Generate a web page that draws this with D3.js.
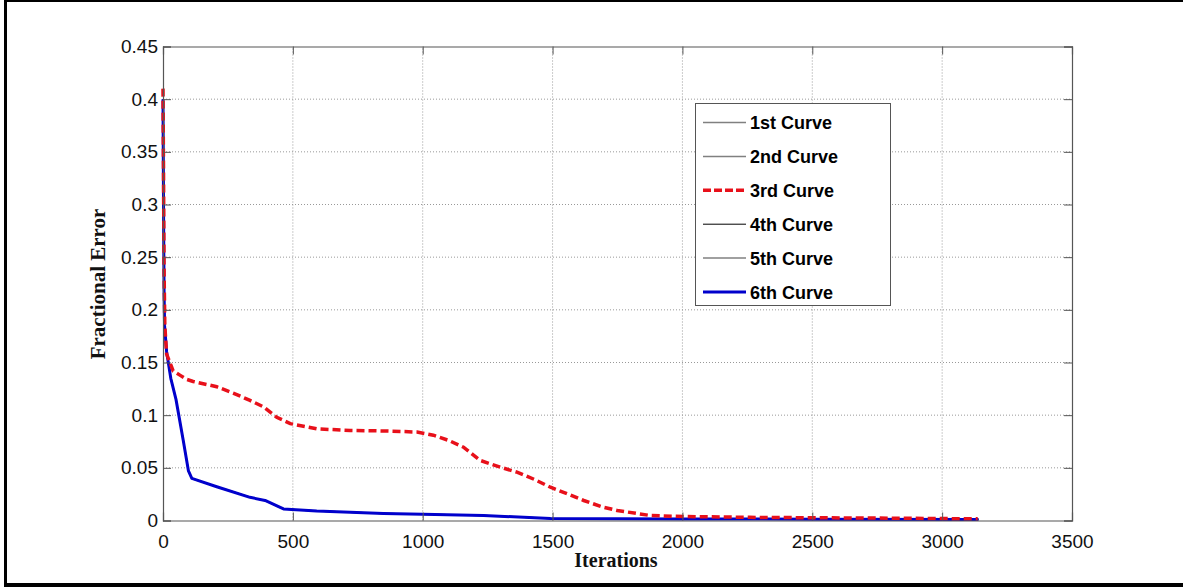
<!DOCTYPE html>
<html>
<head>
<meta charset="utf-8">
<script src="https://cdn.jsdelivr.net/npm/d3@7"></script>
<style>
  html, body { margin: 0; padding: 0; background: #fff; }
  svg { display: block; }
</style>
</head>
<body>
<div id="chart"></div>
<script>
// Values
const xTicks = [0, 500, 1000, 1500, 2000, 2500, 3000, 3500];
const yTicks = [0, 0.05, 0.1, 0.15, 0.2, 0.25, 0.3, 0.35, 0.4, 0.45];
const yTickLabels = ['0', '0.05', '0.1', '0.15', '0.2', '0.25', '0.3', '0.35', '0.4', '0.45'];

// 3rd curve (red dashed)
const redIter = [0, 2, 4, 7, 14, 39, 65, 91, 116, 207, 270, 335, 386, 438, 490, 592, 721, 850, 978, 1041, 1100, 1157, 1222, 1299, 1363, 1430, 1492, 1560, 1620, 1690, 1749, 1877, 2005, 2260, 2520, 2800, 3137];
const redErr = [0.41, 0.33, 0.24, 0.185, 0.158, 0.142, 0.138, 0.134, 0.132, 0.127, 0.121, 0.114, 0.108, 0.098, 0.092, 0.087, 0.0855, 0.085, 0.084, 0.081, 0.076, 0.0696, 0.057, 0.0506, 0.0459, 0.039, 0.0316, 0.025, 0.019, 0.013, 0.0095, 0.0047, 0.0038, 0.003, 0.0026, 0.0022, 0.0016];

// 6th curve (blue solid) -- curves 1, 2, 4, 5 lie underneath it
const blueIter = [0, 2, 4, 6, 14, 30, 50, 78, 98, 111, 207, 335, 393, 464, 592, 849, 1000, 1234, 1492, 2000, 2500, 3140];
const blueErr = [0.40, 0.30, 0.22, 0.185, 0.16, 0.135, 0.115, 0.076, 0.047, 0.04, 0.032, 0.022, 0.019, 0.011, 0.009, 0.0066, 0.006, 0.0047, 0.002, 0.0015, 0.0013, 0.001];

const seriesNames = ['1st Curve', '2nd Curve', '3rd Curve', '4th Curve', '5th Curve', '6th Curve'];

const W = 1183, H = 587;
const margin = { left: 163, right: 111, top: 46.5, bottom: 66.5 };

const svg = d3.select('#chart').append('svg')
  .attr('width', W)
  .attr('height', H);

// outer frame (left, top, bottom edges only)
svg.append('rect').attr('x', 4).attr('y', 0).attr('width', 3).attr('height', H).attr('fill', '#000');
svg.append('rect').attr('x', 4).attr('y', 0).attr('width', W).attr('height', 2).attr('fill', '#000');
svg.append('rect').attr('x', 4).attr('y', 583).attr('width', W).attr('height', 4).attr('fill', '#000');

const x = d3.scaleLinear().domain([0, 3500]).range([margin.left, W - margin.right]);
const y = d3.scaleLinear().domain([0, 0.45]).range([H - margin.bottom, margin.top]);

const g = svg.append('g');

// grid
g.selectAll('.vgrid')
  .data(xTicks.slice(1, -1))
  .enter().append('line')
  .attr('x1', d => x(d)).attr('x2', d => x(d))
  .attr('y1', y(0)).attr('y2', y(0.45))
  .attr('stroke', '#999').attr('stroke-width', 1)
  .attr('stroke-dasharray', '1,2');

g.selectAll('.hgrid')
  .data(yTicks.slice(1, -1))
  .enter().append('line')
  .attr('x1', x(0)).attr('x2', x(3500))
  .attr('y1', d => y(d)).attr('y2', d => y(d))
  .attr('stroke', '#999').attr('stroke-width', 1)
  .attr('stroke-dasharray', '1,2');

// curves
const line = d3.line().x(d => x(d[0])).y(d => y(d[1]));
const bluePts = blueIter.map((v, i) => [v, blueErr[i]]);
const redPts = redIter.map((v, i) => [v, redErr[i]]);

const hidden = [
  { color: '#808080', w: 1.5 },
  { color: '#808080', w: 1.5 },
  { color: '#000', w: 1 },
  { color: '#808080', w: 1.5 }
];
hidden.forEach(h => {
  g.append('path').datum(bluePts)
    .attr('d', line).attr('fill', 'none')
    .attr('stroke', h.color).attr('stroke-width', h.w);
});

g.append('path').datum(bluePts)
  .attr('d', line).attr('fill', 'none')
  .attr('stroke', '#0000cc').attr('stroke-width', 3)
  .attr('stroke-linejoin', 'round');

g.append('path').datum(redPts)
  .attr('d', line).attr('fill', 'none')
  .attr('stroke', '#e8101a').attr('stroke-width', 3.5)
  .attr('stroke-dasharray', '8,4');

// axes (MATLAB style: inward ticks, full box)
const tickFont = '"Liberation Sans", Arial, sans-serif';

const xAxis = svg.append('g')
  .attr('transform', `translate(0,${y(0)})`)
  .call(d3.axisBottom(x).tickValues(xTicks).tickSize(-8).tickPadding(14).tickFormat(d3.format('d')));
const yAxis = svg.append('g')
  .attr('transform', `translate(${x(0)},0)`)
  .call(d3.axisLeft(y).tickValues(yTicks).tickSize(-8).tickPadding(5).tickFormat((d, i) => yTickLabels[i]));
const xTop = svg.append('g')
  .attr('transform', `translate(0,${y(0.45)})`)
  .call(d3.axisTop(x).tickValues(xTicks).tickSize(-8).tickFormat(''));
const yRight = svg.append('g')
  .attr('transform', `translate(${x(3500)},0)`)
  .call(d3.axisRight(y).tickValues(yTicks).tickSize(-8).tickFormat(''));

[xAxis, yAxis, xTop, yRight].forEach(a => {
  a.select('.domain').attr('stroke', '#555').attr('stroke-width', 1.2);
  a.selectAll('.tick line').attr('stroke', '#555');
  a.selectAll('.tick text')
    .attr('fill', '#111')
    .style('font-family', tickFont)
    .style('font-size', '19px');
});

// axis titles
svg.append('text')
  .attr('x', 616).attr('y', 567)
  .attr('text-anchor', 'middle')
  .style('font-family', '"Liberation Serif", "Times New Roman", serif')
  .style('font-weight', 'bold')
  .style('font-size', '20px')
  .attr('fill', '#111')
  .text('Iterations');

svg.append('text')
  .attr('transform', 'translate(105,284) rotate(-90)')
  .attr('text-anchor', 'middle')
  .style('font-family', '"Liberation Serif", "Times New Roman", serif')
  .style('font-weight', 'bold')
  .style('font-size', '21px')
  .attr('fill', '#111')
  .text('Fractional Error');

// legend
const legendStyles = [
  { color: '#808080', w: 1.5, dash: null },
  { color: '#808080', w: 1.5, dash: null },
  { color: '#e8101a', w: 3.5, dash: '8,3' },
  { color: '#000', w: 1, dash: null },
  { color: '#808080', w: 1.5, dash: null },
  { color: '#0000cc', w: 3, dash: null }
];

const legend = svg.append('g').attr('class', 'legend');
legend.append('rect')
  .attr('x', 695.5).attr('y', 103.5)
  .attr('width', 195).attr('height', 202)
  .attr('fill', '#fff')
  .attr('stroke', '#555').attr('stroke-width', 1);

const items = legend.selectAll('.legend-item')
  .data(seriesNames)
  .enter().append('g')
  .attr('class', 'legend-item')
  .attr('transform', (d, i) => `translate(0,${122.5 + i * 33.9})`);

items.append('line')
  .attr('x1', 703).attr('x2', 746)
  .attr('y1', 0).attr('y2', 0)
  .attr('stroke', (d, i) => legendStyles[i].color)
  .attr('stroke-width', (d, i) => legendStyles[i].w)
  .attr('stroke-dasharray', (d, i) => legendStyles[i].dash);

items.append('text')
  .attr('x', 750).attr('y', 6.5)
  .style('font-family', '"Liberation Sans", Arial, sans-serif')
  .style('font-weight', 'bold')
  .style('font-size', '18px')
  .attr('fill', '#000')
  .text(d => d);
</script>
</body>
</html>
